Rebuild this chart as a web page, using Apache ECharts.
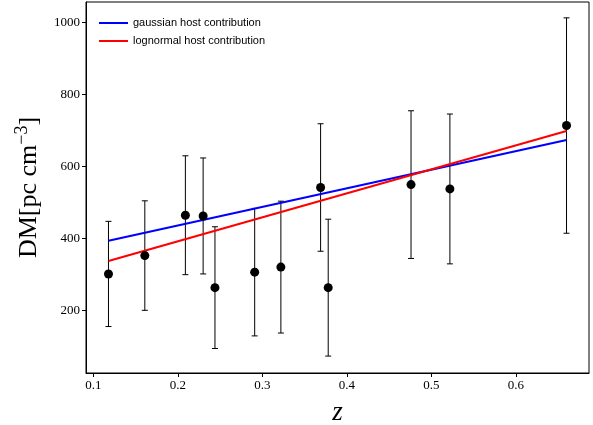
<!DOCTYPE html>
<html>
<head>
<meta charset="utf-8">
<script src="https://cdn.jsdelivr.net/npm/echarts@6/dist/echarts.min.js"></script>
<style>html,body{margin:0;padding:0;background:#fff;}#c{width:593px;height:425px;}</style>
</head>
<body>
<div id="c"></div>
<script>
// Data
const zValues   = [0.118, 0.161, 0.209, 0.230, 0.244, 0.291, 0.322, 0.369, 0.378, 0.476, 0.522, 0.660];
const dmValues  = [302, 353, 465, 463, 264, 307, 321, 542, 264, 550, 538, 714];
const dmErrors  = [146, 152, 165, 161, 169, 177, 183, 177, 190, 205, 208, 299];
const gaussLine = [[0.118, 394], [0.660, 674]];
const lognLine  = [[0.118, 338], [0.660, 699]];
const xTicks = [0.1, 0.2, 0.3, 0.4, 0.5, 0.6];
const yTicks = [200, 400, 600, 800, 1000];
const seriesNames = ['gaussian host contribution', 'lognormal host contribution'];

const points = zValues.map((z, i) => [z, dmValues[i]]);
const errData = zValues.map((z, i) => [z, dmValues[i] - dmErrors[i], dmValues[i] + dmErrors[i]]);

const serif = '"Liberation Serif", "DejaVu Serif", serif';
const chart = echarts.init(document.getElementById('c'), null, {renderer: 'canvas'});
chart.setOption({
  animation: false,
  backgroundColor: '#fff',
  grid: {left: 86, right: 4, top: 2, bottom: 52, containLabel: false, outerBoundsMode: 'none',
         show: true, borderColor: '#000', borderWidth: 1, backgroundColor: 'transparent'},
  legend: {
    left: 94, top: 12, orient: 'vertical', itemWidth: 29, itemHeight: 2, itemGap: 6,
    icon: 'rect',
    textStyle: {fontFamily: '"Liberation Sans", sans-serif', fontSize: 11, color: '#000', lineHeight: 12},
    data: seriesNames
  },
  xAxis: {
    type: 'value', min: 0.0914, max: 0.6866,
    name: 'z', nameLocation: 'middle', nameGap: 26,
    nameTextStyle: {fontFamily: serif, fontStyle: 'italic', fontSize: 27, color: '#000'},
    axisLine: {show: true, onZero: false, lineStyle: {color: '#000', width: 1}},
    axisTick: {show: true, inside: false, length: 4, customValues: xTicks, lineStyle: {color: '#000'}},
    axisLabel: {customValues: xTicks, formatter: v => v.toFixed(1), fontFamily: serif, fontSize: 13, color: '#000', margin: 6},
    splitLine: {show: false}
  },
  yAxis: {
    type: 'value', min: 27, max: 1057,
    name: '{m|DM[pc cm}{s|−3}{m|]}', nameLocation: 'middle', nameGap: 41, nameRotate: 90,
    nameTextStyle: {
      fontFamily: serif, fontSize: 26, color: '#000',
      rich: {
        m: {fontFamily: serif, fontSize: 26, color: '#000'},
        s: {fontFamily: serif, fontSize: 18, color: '#000', verticalAlign: 'top', padding: [0, 0, 14, 0]}
      }
    },
    axisLine: {show: true, onZero: false, lineStyle: {color: '#000', width: 1}},
    axisTick: {show: true, inside: false, length: 4, customValues: yTicks, lineStyle: {color: '#000'}},
    axisLabel: {customValues: yTicks, formatter: v => String(v), fontFamily: serif, fontSize: 13, color: '#000', margin: 6},
    splitLine: {show: false}
  },
  series: [
    {
      name: seriesNames[0], type: 'line', data: gaussLine, showSymbol: false, symbol: 'none',
      lineStyle: {color: '#0000ff', width: 2}, itemStyle: {color: '#0000ff'}, z: 3
    },
    {
      name: seriesNames[1], type: 'line', data: lognLine, showSymbol: false, symbol: 'none',
      lineStyle: {color: '#ff0000', width: 2}, itemStyle: {color: '#ff0000'}, z: 4
    },
    {
      type: 'custom', data: errData, z: 2,
      renderItem: function (params, api) {
        const x = api.value(0);
        const lo = api.coord([x, api.value(1)]);
        const hi = api.coord([x, api.value(2)]);
        const cw = 3;
        const st = {stroke: '#000', lineWidth: 1};
        return {type: 'group', children: [
          {type: 'line', shape: {x1: lo[0], y1: lo[1], x2: hi[0], y2: hi[1]}, style: st},
          {type: 'line', shape: {x1: lo[0] - cw, y1: lo[1], x2: lo[0] + cw, y2: lo[1]}, style: st},
          {type: 'line', shape: {x1: hi[0] - cw, y1: hi[1], x2: hi[0] + cw, y2: hi[1]}, style: st}
        ]};
      }
    },
    {
      type: 'scatter', data: points, symbol: 'circle', symbolSize: 9,
      itemStyle: {color: '#000', opacity: 1}, z: 5
    }
  ]
});
</script>
</body>
</html>
